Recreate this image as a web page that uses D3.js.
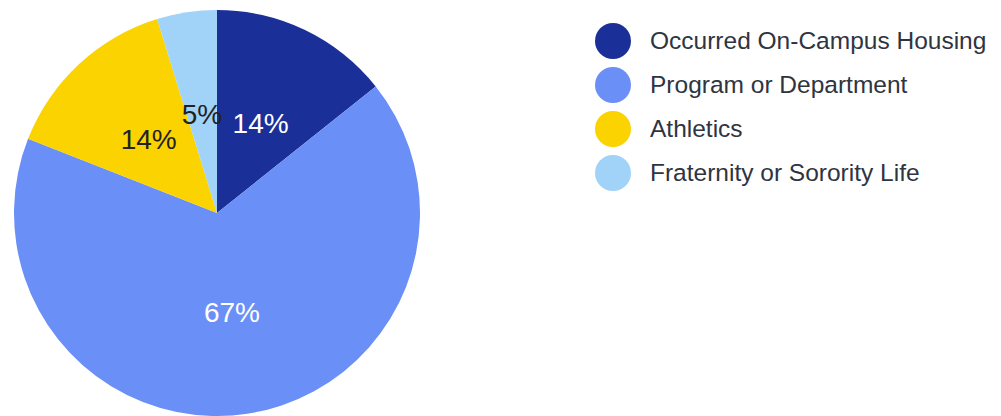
<!DOCTYPE html>
<html>
<head>
<meta charset="utf-8">
<script src="https://cdn.jsdelivr.net/npm/d3@7"></script>
<style>
  html, body { margin: 0; padding: 0; background: #ffffff; }
  svg { display: block; }
  text { font-family: "Liberation Sans", Arial, sans-serif; }
</style>
</head>
<body>
<svg id="chart" width="1001" height="416"></svg>
<script>
// Incident location breakdown (counts)
const categories = [
  "Occurred On-Campus Housing",
  "Program or Department",
  "Athletics",
  "Fraternity or Sorority Life"
];
const counts = [3, 14, 3, 1];
const colors = ["#1b2f98", "#6a8ff6", "#fad301", "#a1d2f8"];
const labelColors = ["#ffffff", "#ffffff", "#222222", "#222222"];

const data = categories.map((c, i) => ({ name: c, value: counts[i], color: colors[i], labelColor: labelColors[i] }));
const total = d3.sum(counts);

const svg = d3.select("#chart");
const cx = 217, cy = 213, radius = 203;

const pie = d3.pie().value(d => d.value).sort(null);
const arc = d3.arc().innerRadius(0).outerRadius(radius);
const labelArc = d3.arc().innerRadius(radius * 0.495).outerRadius(radius * 0.495);

const g = svg.append("g").attr("transform", `translate(${cx},${cy})`);
const arcs = pie(data);

g.selectAll("path.slice")
  .data(arcs)
  .join("path")
  .attr("class", "slice")
  .attr("d", arc)
  .attr("fill", d => d.data.color);

g.selectAll("text.pct")
  .data(arcs)
  .join("text")
  .attr("class", "pct")
  .attr("transform", d => `translate(${labelArc.centroid(d)})`)
  .attr("text-anchor", "middle")
  .attr("dy", "0.36em")
  .attr("font-size", 28)
  .attr("fill", d => d.data.labelColor)
  .text(d => d3.format(".0%")(d.data.value / total));

// Legend
const legend = svg.append("g").attr("transform", "translate(613,41)");
const rowH = 44;
const rows = legend.selectAll("g.row")
  .data(data)
  .join("g")
  .attr("class", "row")
  .attr("transform", (d, i) => `translate(0,${i * rowH})`);

rows.append("circle")
  .attr("r", 18)
  .attr("fill", d => d.color);

rows.append("text")
  .attr("x", 37)
  .attr("dy", "0.33em")
  .attr("font-size", 24.5)
  .attr("fill", "#2f3441")
  .text(d => d.name);
</script>
</body>
</html>
